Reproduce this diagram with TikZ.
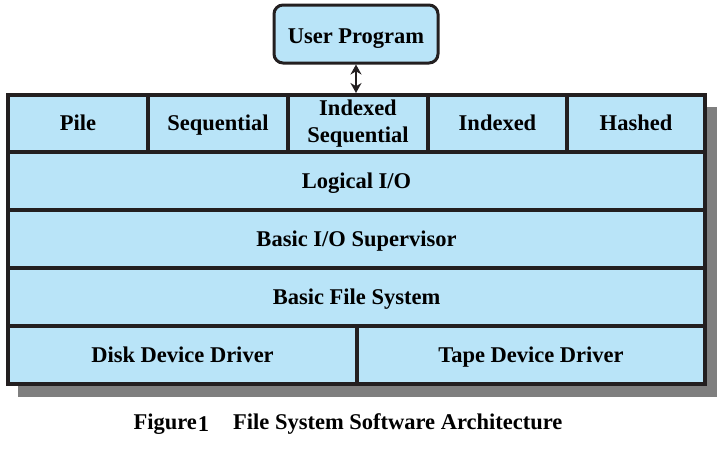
\documentclass[tikz,border=0pt]{standalone}
\usepackage{fontspec}
\setmainfont{Liberation Serif}
\usetikzlibrary{arrows.meta}
\definecolor{cellblue}{HTML}{B9E4F8}
\definecolor{edge}{HTML}{231F20}
\definecolor{shadowgray}{HTML}{7F7F7F}
\tikzset{
  cell/.style={draw=edge, fill=cellblue, line width=4pt, inner sep=0pt, align=center,
    text height=14.6pt, text depth=0pt,
    font=\fontsize{22.5}{25}\selectfont\bfseries},
  upbox/.style={draw=edge, fill=cellblue, line width=3pt, rounded corners=9pt, inner sep=0pt,
    text height=14.6pt, text depth=0pt,
    font=\fontsize{22.5}{25}\selectfont\bfseries},
  link/.style={draw=edge, line width=1.5pt, {Stealth[length=10pt,width=11pt]}-{Stealth[length=10pt,width=11pt]}},
  caption/.style={font=\fontsize{22.5}{25}\selectfont\bfseries}
}
\begin{document}
\begin{tikzpicture}[x=1pt,y=-1pt]
\useasboundingbox (0,0) rectangle (723,450);
\fill[white] (0,0) rectangle (723,450);
% shadow
\fill[shadowgray] (18,107) rectangle (717,397);
% cells
\node[cell, minimum width=140pt, minimum height=57pt] (pile) at (78,123.5) {Pile};
\node[cell, minimum width=140pt, minimum height=57pt] (seq) at (218,123.5) {Sequential};
\node[cell, minimum width=140pt, minimum height=57pt, text height=41.6pt] (iseq) at (358,123.5) {\raisebox{1.5pt}{Indexed}\\[2pt]\raisebox{1.5pt}{Sequential}};
\node[cell, minimum width=139pt, minimum height=57pt] (idx) at (497.5,123.5) {Indexed};
\node[cell, minimum width=138pt, minimum height=57pt] (hash) at (636,123.5) {Hashed};
\node[cell, minimum width=697pt, minimum height=58pt] (lio) at (356.5,181) {Logical I/O};
\node[cell, minimum width=697pt, minimum height=58pt] (bios) at (356.5,239) {Basic I/O Supervisor};
\node[cell, minimum width=697pt, minimum height=58pt] (bfs) at (356.5,297) {Basic File System};
\node[cell, minimum width=349pt, minimum height=58pt] (disk) at (182.5,355) {Disk Device Driver};
\node[cell, minimum width=348pt, minimum height=58pt] (tape) at (531,355) {Tape Device Driver};
% user program
\node[upbox, minimum width=164pt, minimum height=58pt] (user) at (356,34) {\raisebox{-2pt}{User Program}};
\draw[link] (user.south) -- (user.south |- iseq.north);
% caption
\node[caption] (cap) at (348,424) {Figure\kern1pt\raisebox{-2pt}{1}\hspace{24pt}File System Software Architecture};
\end{tikzpicture}
\end{document}
